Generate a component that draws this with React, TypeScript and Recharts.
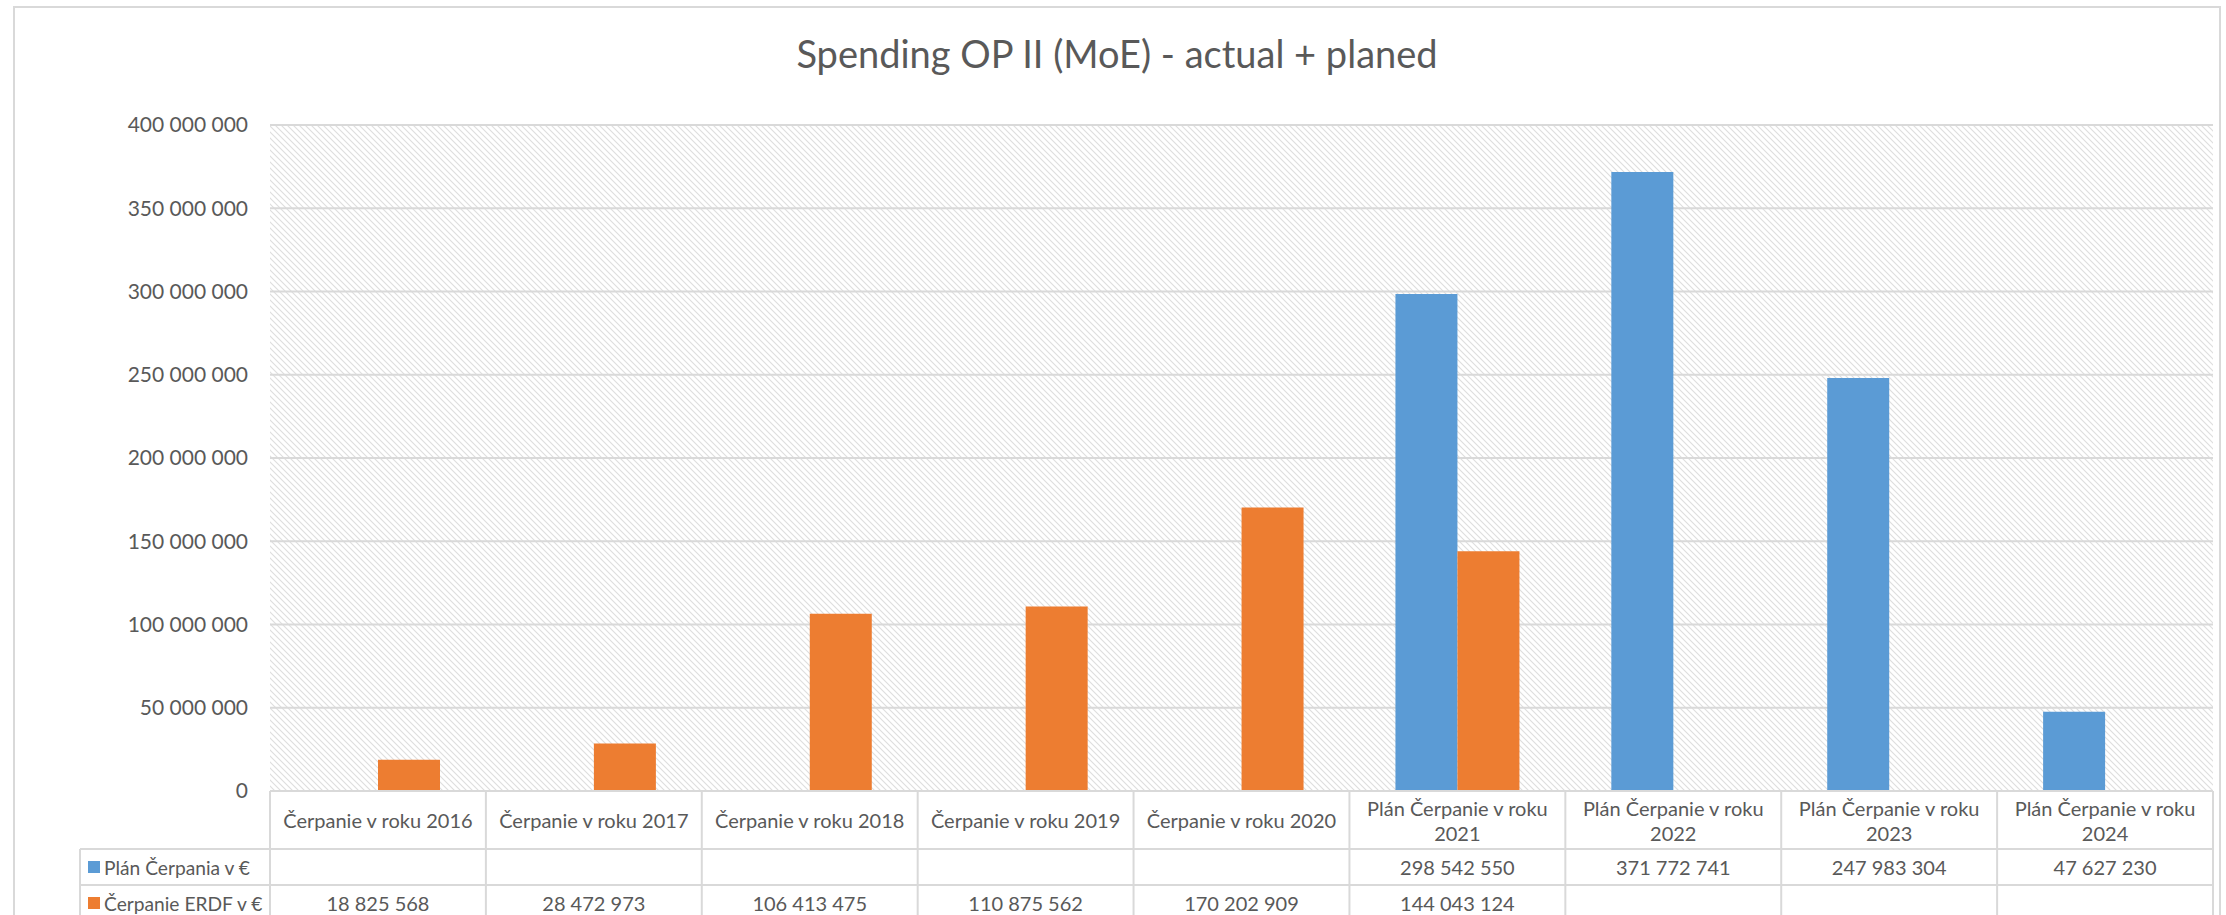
import React from "react";
import { BarChart, Bar, XAxis, YAxis, CartesianGrid } from "recharts";

// ---------------------------------------------------------------------------
// Data
// ---------------------------------------------------------------------------

const categories = [
  "Čerpanie v roku 2016",
  "Čerpanie v roku 2017",
  "Čerpanie v roku 2018",
  "Čerpanie v roku 2019",
  "Čerpanie v roku 2020",
  "Plán Čerpanie v roku 2021",
  "Plán Čerpanie v roku 2022",
  "Plán Čerpanie v roku 2023",
  "Plán Čerpanie v roku 2024",
];

const planValues: (number | null)[] = [
  null, null, null, null, null, 298542550, 371772741, 247983304, 47627230,
];

const erdfValues: (number | null)[] = [
  18825568, 28472973, 106413475, 110875562, 170202909, 144043124, null, null, null,
];

const yTicks = [0, 50000000, 100000000, 150000000, 200000000, 250000000, 300000000, 350000000, 400000000];

const seriesNames = ["Plán Čerpania v €", "Čerpanie ERDF v €"];

const data = categories.map((name, i) => ({
  name,
  plan: planValues[i],
  erdf: erdfValues[i],
}));

// ---------------------------------------------------------------------------
// Layout
// ---------------------------------------------------------------------------

const W = 2226;
const H = 915;
const PLOT_LEFT = 270;
const MARGIN_RIGHT = 13;
const MARGIN_TOP = 125;
const X_AXIS_H = 124;
const TABLE_TOP = H - X_AXIS_H;
const ROW1_TOP = 849;
const ROW2_TOP = 885;
const ROW_BOTTOM = 921;
const LABEL_COL_LEFT = 80;
const CELL_W = (W - PLOT_LEFT - MARGIN_RIGHT) / categories.length;

const BLUE = "#5B9BD5";
const ORANGE = "#ED7D31";
const LINE = "#d9d9d9";
const TEXT = "#595959";
const FONT = "Lato, 'Open Sans', sans-serif";
const TABLE_FS = 20;

const fmt = (v: number | null) =>
  v == null ? "" : String(v).replace(/\B(?=(\d{3})+(?!\d))/g, " ");

// ---------------------------------------------------------------------------
// Data table drawn as the x axis ticks
// ---------------------------------------------------------------------------

function TableTick(props: any) {
  const { x, payload } = props;
  const index: number = props.index ?? payload.index ?? 0;
  const name: string = payload.value;
  const left = x - CELL_W / 2;
  const right = x + CELL_W / 2;
  const row = data[index];

  const isPlan = name.startsWith("Plán");
  const words = name.split(" ");
  const line1 = isPlan ? words.slice(0, -1).join(" ") : name;
  const line2 = isPlan ? words[words.length - 1] : "";

  return (
    <g fontFamily={FONT} fontSize={TABLE_FS} fill={TEXT}>
      {/* cell borders */}
      <line x1={left} x2={right} y1={TABLE_TOP} y2={TABLE_TOP} stroke={LINE} strokeWidth={2} />
      <line x1={left} x2={right} y1={ROW1_TOP} y2={ROW1_TOP} stroke={LINE} strokeWidth={2} />
      <line x1={left} x2={right} y1={ROW2_TOP} y2={ROW2_TOP} stroke={LINE} strokeWidth={2} />
      <line x1={right} x2={right} y1={TABLE_TOP} y2={ROW_BOTTOM} stroke={LINE} strokeWidth={2} />
      {index === 0 && (
        <line x1={left} x2={left} y1={TABLE_TOP} y2={ROW_BOTTOM} stroke={LINE} strokeWidth={2} />
      )}

      {/* category header */}
      {isPlan ? (
        <>
          <text x={x} y={808} textAnchor="middle" dominantBaseline="central">{line1}</text>
          <text x={x} y={833} textAnchor="middle" dominantBaseline="central">{line2}</text>
        </>
      ) : (
        <text x={x} y={820} textAnchor="middle" dominantBaseline="central">{line1}</text>
      )}

      {/* values */}
      <text x={x} y={867} textAnchor="middle" dominantBaseline="central">{fmt(row.plan)}</text>
      <text x={x} y={903} textAnchor="middle" dominantBaseline="central">{fmt(row.erdf)}</text>

      {/* row header column with legend keys */}
      {index === 0 && (
        <g fontSize={19.2}>
          <line x1={LABEL_COL_LEFT} x2={left} y1={ROW1_TOP} y2={ROW1_TOP} stroke={LINE} strokeWidth={2} />
          <line x1={LABEL_COL_LEFT} x2={left} y1={ROW2_TOP} y2={ROW2_TOP} stroke={LINE} strokeWidth={2} />
          <line x1={LABEL_COL_LEFT} x2={LABEL_COL_LEFT} y1={ROW1_TOP} y2={ROW_BOTTOM} stroke={LINE} strokeWidth={2} />
          <rect x={88} y={861} width={12} height={12} fill={BLUE} />
          <text x={104} y={867} dominantBaseline="central">{seriesNames[0]}</text>
          <rect x={88} y={897} width={12} height={12} fill={ORANGE} />
          <text x={104} y={903} dominantBaseline="central">{seriesNames[1]}</text>
        </g>
      )}
    </g>
  );
}

// ---------------------------------------------------------------------------
// App
// ---------------------------------------------------------------------------

export default function App() {
  return (
    <div style={{ position: "absolute", left: 0, top: 0, width: W, height: H, overflow: "hidden", background: "#fff" }}>
      <div
        style={{
          position: "absolute",
          left: 13,
          top: 6,
          width: 2208,
          height: 1000,
          border: `2px solid ${LINE}`,
          boxSizing: "border-box",
        }}
      />
      <div
        style={{
          position: "absolute",
          left: 13,
          width: 2208,
          top: 29,
          textAlign: "center",
          fontFamily: FONT,
          fontSize: 38,
          color: TEXT,
          lineHeight: "48px",
        }}
      >
        Spending OP II (MoE) - actual + planed
      </div>
      <div style={{ position: "absolute", left: 0, top: 0 }}>
        <BarChart
          width={W}
          height={H}
          data={data}
          margin={{ top: MARGIN_TOP, right: MARGIN_RIGHT, left: 0, bottom: 0 }}
          barSize={62}
          barGap={0}
        >
          <defs>
            <pattern id="hatch" width={6} height={6} patternUnits="userSpaceOnUse">
              <rect width={6} height={6} fill="#fff" />
              <path d="M0,0 L6,6 M-1,5 L1,7 M5,-1 L7,1" stroke="#dedede" strokeWidth={1.1} />
            </pattern>
          </defs>
          <CartesianGrid vertical={false} stroke={LINE} strokeWidth={2} fill="url(#hatch)" fillOpacity={1} />
          <XAxis
            dataKey="name"
            height={X_AXIS_H}
            interval={0}
            axisLine={false}
            tickLine={false}
            tickSize={0}
            tick={(p: any) => <TableTick {...p} />}
          />
          <YAxis
            width={PLOT_LEFT}
            domain={[0, 400000000]}
            ticks={yTicks}
            interval={0}
            axisLine={false}
            tickLine={false}
            tickMargin={16}
            tickFormatter={(v: number) => fmt(v)}
            tick={{ fill: TEXT, fontSize: 21, fontFamily: FONT }}
          />
          <Bar dataKey="plan" name={seriesNames[0]} fill={BLUE} isAnimationActive={false} />
          <Bar dataKey="erdf" name={seriesNames[1]} fill={ORANGE} isAnimationActive={false} />
        </BarChart>
      </div>
    </div>
  );
}
